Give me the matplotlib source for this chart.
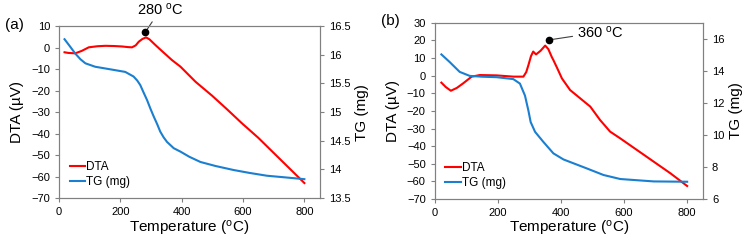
import numpy as np
import matplotlib.pyplot as plt

plt.rcParams['font.family'] = ['Liberation Sans', 'DejaVu Sans']
plt.rcParams['mathtext.fontset'] = 'custom'
plt.rcParams['mathtext.rm'] = 'Liberation Sans'
plt.rcParams['mathtext.it'] = 'Liberation Sans:italic'

# panel (a) data
dta_a_T = [18, 30, 53, 75, 97, 125, 151, 180, 205, 225, 238, 250, 260, 272, 284, 295,
           314, 340, 368, 396, 445, 500, 550, 597, 650, 700, 750, 800]
dta_a_v = [-2.2, -2.5, -2.7, -1.5, 0.1, 0.6, 0.8, 0.7, 0.5, 0.2, 0.1, 1.0, 2.7, 4.0, 4.7, 3.8,
           1.2, -2.2, -5.8, -8.9, -15.9, -22.5, -29.0, -35.3, -42.0, -49.0, -56.0, -63.0]
tg_a_T = [18, 35, 53, 70, 86, 118, 173, 216, 243, 255, 265, 275, 287, 298, 309, 320, 330,
          341, 352, 374, 396, 425, 461, 510, 569, 620, 678, 740, 800]
tg_a_m = [16.27, 16.15, 16.02, 15.92, 15.85, 15.79, 15.74, 15.70, 15.62, 15.55, 15.47, 15.35,
          15.21, 15.06, 14.92, 14.79, 14.66, 14.56, 14.48, 14.37, 14.31, 14.22, 14.13, 14.06,
          13.99, 13.94, 13.89, 13.86, 13.83]

# panel (b) data
dta_b_T = [21, 35, 51, 70, 90, 117, 143, 196, 249, 281, 290, 297, 305, 312, 321, 335, 350,
           360, 371, 376, 390, 403, 429, 461, 493, 524, 556, 588, 641, 694, 747, 800]
dta_b_v = [-4.0, -6.5, -8.6, -7.0, -4.4, -0.6, 0.3, 0.1, -0.6, -0.6, 2.0, 6.0, 11.0, 13.6,
           12.0, 14.0, 17.0, 15.0, 10.5, 8.8, 3.5, -1.6, -8.2, -12.9, -17.6, -25.2, -31.8,
           -35.6, -42.2, -48.8, -55.4, -62.6]
tg_b_T = [21, 47, 79, 111, 150, 196, 249, 270, 286, 297, 304, 318, 344, 376, 408, 482,
          535, 588, 694, 800]
tg_b_m = [15.02, 14.55, 13.93, 13.68, 13.63, 13.60, 13.48, 13.20, 12.45, 11.50, 10.80,
          10.19, 9.57, 8.85, 8.47, 7.91, 7.50, 7.25, 7.10, 7.08]

panels = [
    dict(tag='(a)', dta_T=dta_a_T, dta_v=dta_a_v, tg_T=tg_a_T, tg_m=tg_a_m,
         dta_lim=(-70, 10), dta_ticks=np.arange(-70, 11, 10),
         tg_lim=(13.5, 16.5), tg_ticks=[13.5, 14, 14.5, 15, 15.5, 16, 16.5],
         peak='280', dot=(281, 7.1), text=(330, 17.5), ha='center',
         rect=[0.079, 0.178, 0.349, 0.714]),
    dict(tag='(b)', dta_T=dta_b_T, dta_v=dta_b_v, tg_T=tg_b_T, tg_m=tg_b_m,
         dta_lim=(-70, 30), dta_ticks=np.arange(-70, 31, 10),
         tg_lim=(6, 17), tg_ticks=[6, 8, 10, 12, 14, 16],
         peak='360', dot=(362, 20.2), text=(450, 24.6), ha='left',
         rect=[0.582, 0.174, 0.359, 0.732]),
]

red = '#ff0000'
blue = '#1a7fd0'
grey = '#808080'

fig = plt.figure(figsize=(7.47, 2.41), dpi=100)

for p in panels:
    ax = fig.add_axes(p['rect'])
    ax2 = ax.twinx()
    l1, = ax.plot(p['dta_T'], p['dta_v'], color=red, lw=1.5)
    l2, = ax2.plot(p['tg_T'], p['tg_m'], color=blue, lw=1.5)
    ax.set_xlim(0, 850)
    ax.set_xticks([0, 200, 400, 600, 800])
    ax.set_ylim(*p['dta_lim'])
    ax.set_yticks(p['dta_ticks'])
    ax2.set_ylim(*p['tg_lim'])
    ax2.set_yticks(p['tg_ticks'])
    ax2.set_yticklabels(['%g' % t for t in p['tg_ticks']])
    for a in (ax, ax2):
        for s in a.spines.values():
            s.set_color(grey)
            s.set_linewidth(0.8)
        a.tick_params(colors=grey, labelcolor='black', labelsize=8, length=3, width=0.8)
    ax.set_xlabel('Temperature ($^{\\mathrm{o}}$C)', fontsize=11, labelpad=1)
    ax.set_ylabel('DTA (µV)', fontsize=11, labelpad=5)
    ax2.set_ylabel('TG (mg)', fontsize=11, labelpad=3)

    ax.plot(*p['dot'], 'o', color='black', ms=4.5, zorder=5, clip_on=False)
    ax.annotate(p['peak'] + ' $^{\\mathrm{o}}$C', xy=p['dot'], xytext=p['text'],
                ha=p['ha'], va='center', fontsize=10.5, annotation_clip=False,
                arrowprops=dict(arrowstyle='-', color='#404040', lw=0.8,
                                shrinkA=1, shrinkB=2))

    ax2.legend([l1, l2], ['DTA', 'TG (mg)'], loc='lower left', frameon=False,
               fontsize=8.5, handlelength=1.3, handletextpad=0.1, labelspacing=0.3,
               bbox_to_anchor=(0.0, -0.005))

    x0, y0, w, h = p['rect']
    fig.text(x0 - 0.072, y0 + h + 0.005, p['tag'], fontsize=11, va='center', ha='left')

fig.savefig('out.png', dpi=100)
